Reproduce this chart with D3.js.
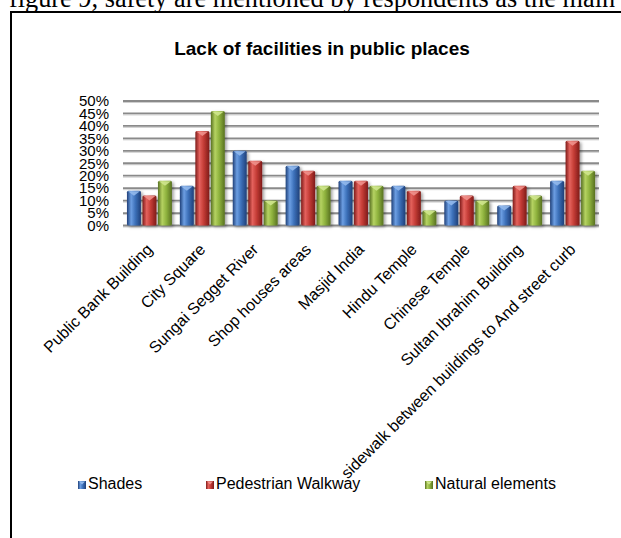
<!DOCTYPE html>
<html>
<head>
<meta charset="utf-8">
<script src="https://cdn.jsdelivr.net/npm/d3@7/dist/d3.min.js"></script>
<style>
  html, body { margin: 0; padding: 0; background: #fff; }
  svg { display: block; }
  text { font-family: Arial, "Liberation Sans", sans-serif; fill: #000; }
</style>
</head>
<body>
<div id="chart"></div>
<script>
// Survey results: share of respondents citing each missing facility, by place
const categories = [
  "Public Bank Building",
  "City Square",
  "Sungai Segget River",
  "Shop houses areas",
  "Masjid India",
  "Hindu Temple",
  "Chinese Temple",
  "Sultan Ibrahim Building",
  "sidewalk between buildings to And street curb"
];
const seriesNames = ["Shades", "Pedestrian Walkway", "Natural elements"];
const shades            = [14, 16, 30, 24, 18, 16, 10, 8, 18];
const pedestrianWalkway = [12, 38, 26, 22, 18, 14, 12, 16, 34];
const naturalElements   = [18, 46, 10, 16, 16, 6, 10, 12, 22];
const yTicks = [0, 5, 10, 15, 20, 25, 30, 35, 40, 45, 50];

const seriesValues = [shades, pedestrianWalkway, naturalElements];

// Bar colour ramps: dark edge, highlight, body, bevel cap
const palette = [
  { dark: "#1f4079", light: "#6c9ee2", mid: "#3c70b9", cap: "#92b9ec" },
  { dark: "#7f1b19", light: "#e4625d", mid: "#c33b35", cap: "#ef918c" },
  { dark: "#587121", light: "#b5d262", mid: "#8eb23d", cap: "#cfe68e" }
];

const W = 621, H = 538;
const plot = { left: 123, right: 599, top: 101, bottom: 225.5 };

const svg = d3.select("#chart").append("svg")
  .attr("width", W).attr("height", H);

const defs = svg.append("defs");
palette.forEach((p, i) => {
  const g = defs.append("linearGradient")
    .attr("id", "bar" + i).attr("x1", 0).attr("x2", 1).attr("y1", 0).attr("y2", 0);
  g.append("stop").attr("offset", "0%").attr("stop-color", p.dark);
  g.append("stop").attr("offset", "30%").attr("stop-color", p.light);
  g.append("stop").attr("offset", "60%").attr("stop-color", p.mid);
  g.append("stop").attr("offset", "100%").attr("stop-color", p.dark);
});
const shadow = defs.append("filter").attr("id", "shadow")
  .attr("x", "-30%").attr("y", "-10%").attr("width", "170%").attr("height", "130%");
shadow.append("feDropShadow").attr("dx", 2).attr("dy", 1.5)
  .attr("stdDeviation", 1.5).attr("flood-color", "#000").attr("flood-opacity", 0.35);

// Paragraph text running above the chart frame
svg.append("text")
  .attr("x", 9).attr("y", 7)
  .style("font-family", "'Times New Roman', 'Liberation Serif', serif")
  .style("font-size", "26.3px")
  .text("figure 9, safety are mentioned by respondents as the main");

// Chart frame (top and left edges)
svg.append("path")
  .attr("d", `M11,${H + 2} L11,12 L${W + 2},12`)
  .attr("fill", "none").attr("stroke", "#000").attr("stroke-width", 2);

// Title
svg.append("text")
  .attr("x", 322).attr("y", 55)
  .attr("text-anchor", "middle")
  .style("font-size", "19px").style("font-weight", "bold")
  .text("Lack of facilities in public places");

// Scales
const x0 = d3.scaleBand().domain(categories)
  .range([plot.left, plot.right]).paddingInner(0.15).paddingOuter(0.075);
const x1 = d3.scaleBand().domain(d3.range(seriesNames.length))
  .range([0, x0.bandwidth()]).paddingInner(0.1);
const y = d3.scaleLinear().domain([0, 50]).range([plot.bottom, plot.top]);

// Gridlines
const grid = svg.append("g");
grid.selectAll("line.sh").data(yTicks).join("line")
  .attr("x1", plot.left).attr("x2", plot.right)
  .attr("y1", d => y(d) + 1.5).attr("y2", d => y(d) + 1.5)
  .attr("stroke", "#cfcfcf").attr("stroke-width", 1);
grid.selectAll("line.gl").data(yTicks).join("line")
  .attr("x1", plot.left).attr("x2", plot.right)
  .attr("y1", d => y(d)).attr("y2", d => y(d))
  .attr("stroke", "#8a8a8a").attr("stroke-width", 1.8);

// Y axis labels
const yAxis = d3.axisLeft(y).tickValues(yTicks).tickFormat(d => d + "%")
  .tickSize(0).tickPadding(0);
const yg = svg.append("g").attr("transform", "translate(109,0)").call(yAxis);
yg.select(".domain").remove();
yg.selectAll("text").style("font-size", "15px")
  .style("font-family", "Arial, 'Liberation Sans', sans-serif").attr("fill", "#000");

// Bars
const rows = categories.map((c, ci) => ({
  cat: c,
  vals: seriesValues.map((s, si) => ({ si, v: s[ci] }))
}));

const groups = svg.append("g").selectAll("g").data(rows).join("g")
  .attr("transform", d => `translate(${x0(d.cat)},0)`);

const bars = groups.selectAll("g.bar").data(d => d.vals).join("g").attr("class", "bar");
bars.append("rect")
  .attr("x", d => x1(d.si)).attr("width", x1.bandwidth())
  .attr("y", d => y(d.v)).attr("height", d => y(0) - y(d.v))
  .attr("rx", 1.5)
  .attr("fill", d => `url(#bar${d.si})`)
  .attr("filter", "url(#shadow)");
// bevelled cap on each bar
bars.append("path")
  .attr("d", d => {
    const xl = x1(d.si), w = x1.bandwidth(), t = y(d.v);
    const h = Math.min(5, y(0) - t);
    return `M${xl + 1},${t + 0.5} L${xl + w - 1},${t + 0.5} L${xl + w / 2},${t + h} Z`;
  })
  .attr("fill", d => palette[d.si].cap).attr("opacity", 0.9);

// Category labels, rotated
const xg = svg.append("g");
xg.selectAll("text").data(categories).join("text")
  .attr("transform", d => `translate(${x0(d) + x0.bandwidth() / 2 + 4},${plot.bottom + 25}) rotate(-45)`)
  .attr("text-anchor", "end")
  .style("font-size", "16px")
  .text(d => d);

// Legend
const legendX = [78, 206, 425];
const lg = svg.append("g").selectAll("g").data(seriesNames).join("g")
  .attr("transform", (d, i) => `translate(${legendX[i]},481)`);
lg.append("rect").attr("width", 8).attr("height", 8)
  .attr("fill", (d, i) => `url(#bar${i})`);
lg.append("path")
  .attr("d", "M1,0.5 L7,0.5 L4,3.5 Z")
  .attr("fill", (d, i) => palette[i].cap);
lg.append("text").attr("x", 10).attr("y", 7.5)
  .style("font-size", "16px")
  .text(d => d);
</script>
</body>
</html>
